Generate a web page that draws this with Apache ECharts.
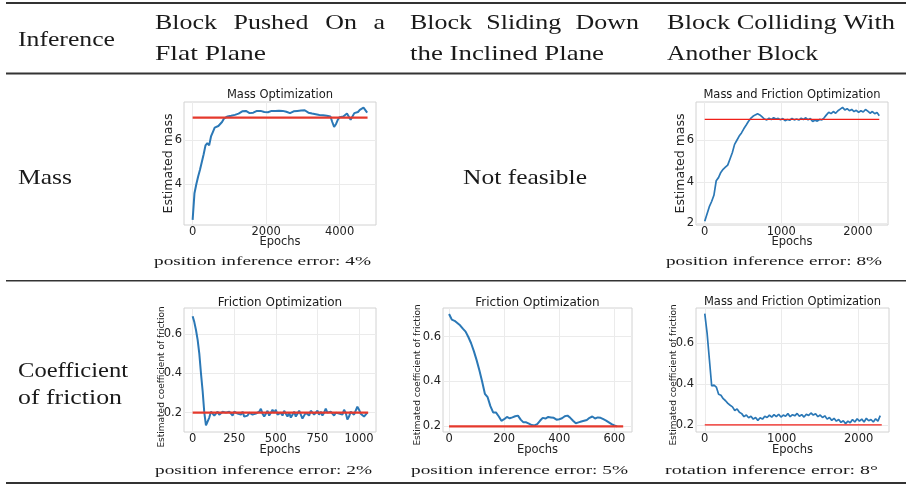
<!DOCTYPE html>
<html><head><meta charset="utf-8">
<script src="https://cdn.jsdelivr.net/npm/echarts@6/dist/echarts.min.js"></script>
<style>html,body{margin:0;padding:0;background:#fff}#c{width:906px;height:486px}</style>
</head><body><div id="c"></div>
<script>
// ---------------- DATA ----------------
const massFlatStep = 50;
const massFlat = [2.40,3.60,4.00,4.35,4.65,5.00,5.35,5.75,5.85,5.75,6.15,6.35,6.55,6.60,6.62,6.65,6.80,6.95,7.02,7.05,
  7.03,7.08,7.06,7.12,7.10,7.18,7.20,7.28,7.22,7.30,7.22,7.20,7.24,7.22,7.26,7.30,7.32,7.30,7.28,7.25,
  7.28,7.24,7.27,7.30,7.26,7.30,7.33,7.31,7.34,7.30,7.28,7.26,7.22,7.20,7.25,7.28,7.26,7.30,7.33,7.32,
  7.30,7.33,7.27,7.22,7.26,7.18,7.20,7.15,7.17,7.12,7.15,7.10,7.12,7.08,7.10,7.05,6.80,6.58,6.70,6.90,
  7.02,7.10,7.05,7.12,7.18,7.15,6.90,6.98,7.20,7.28,7.25,7.35,7.32,7.45,7.38,7.22];
const massCollStep = 30;
const massColl = [2.10,2.45,2.80,3.05,3.35,4.05,4.20,4.45,4.60,4.70,4.80,5.10,5.40,5.80,6.00,6.20,6.35,6.55,6.72,6.90,
  7.05,7.15,7.22,7.28,7.22,7.12,7.02,6.98,7.06,7.00,7.08,7.02,7.05,6.98,7.04,6.94,7.00,6.96,7.05,6.98,
  7.02,6.97,7.06,7.00,7.08,6.98,7.04,6.90,6.96,6.92,7.00,6.98,7.08,7.22,7.35,7.28,7.38,7.30,7.42,7.50,
  7.58,7.46,7.52,7.42,7.48,7.38,7.44,7.34,7.42,7.36,7.48,7.40,7.30,7.38,7.28,7.34,7.18];
const fricFlatStep = 10;
const fricFlat = [0.690,0.660,0.620,0.570,0.500,0.400,0.310,0.200,0.135,0.140,0.175,0.205,0.210,0.185,0.195,0.205,0.190,0.200,0.205,0.195,
  0.200,0.190,0.205,0.200,0.185,0.205,0.210,0.195,0.200,0.190,0.205,0.180,0.170,0.185,0.200,0.210,0.190,0.180,0.195,0.185,
  0.205,0.220,0.195,0.180,0.195,0.210,0.185,0.200,0.215,0.200,0.215,0.190,0.180,0.200,0.185,0.210,0.195,0.180,0.200,0.175,
  0.190,0.205,0.180,0.195,0.210,0.190,0.170,0.185,0.200,0.195,0.185,0.210,0.200,0.190,0.200,0.210,0.190,0.205,0.185,0.200,
  0.220,0.200,0.190,0.205,0.195,0.185,0.200,0.190,0.195,0.200,0.190,0.215,0.200,0.165,0.180,0.205,0.200,0.190,0.210,0.230,
  0.215,0.195,0.205,0.180,0.190,0.200];
const fricInclStep = 10;
const fricIncl = [0.700,0.675,0.670,0.660,0.650,0.635,0.622,0.598,0.570,0.535,0.495,0.450,0.400,0.345,0.330,0.290,0.262,0.262,0.245,0.225,
  0.232,0.242,0.236,0.240,0.245,0.248,0.230,0.218,0.218,0.212,0.206,0.204,0.210,0.225,0.238,0.235,0.242,0.240,0.238,0.230,
  0.232,0.236,0.245,0.248,0.238,0.225,0.214,0.218,0.222,0.225,0.228,0.238,0.244,0.235,0.240,0.238,0.232,0.226,0.218,0.210,
  0.204,0.200];
const fricCollStep = 30;
const fricColl = [0.744,0.650,0.520,0.390,0.395,0.385,0.350,0.345,0.328,0.318,0.305,0.296,0.288,0.270,0.278,0.262,0.255,0.240,0.248,0.235,
  0.242,0.228,0.236,0.222,0.235,0.228,0.242,0.236,0.248,0.238,0.250,0.240,0.252,0.238,0.248,0.242,0.255,0.240,0.250,0.244,
  0.256,0.242,0.250,0.238,0.252,0.246,0.258,0.248,0.254,0.240,0.248,0.236,0.244,0.228,0.236,0.222,0.232,0.218,0.226,0.212,
  0.220,0.206,0.218,0.210,0.226,0.214,0.230,0.218,0.228,0.214,0.232,0.220,0.226,0.214,0.230,0.218,0.245];
const trueMass = 7.0;
const trueFriction = 0.2;
const refLineEnd = [4760, 2280, 1055, 632, 2300];

const xTickValues = [[0,2000,4000],[0,1000,2000],[0,250,500,750,1000],[0,200,400,600],[0,1000,2000]];
const yTickValues = [[4,6],[2,4,6],[0.2,0.4,0.6],[0.2,0.4,0.6],[0.2,0.4,0.6]];
const chartTitles = ['Mass Optimization','Mass and Friction Optimization','Friction Optimization','Friction Optimization','Mass and Friction Optimization'];
const yNames = ['Estimated mass','Estimated mass','Estimated coefficient of friction','Estimated coefficient of friction','Estimated coefficient of friction'];
const xName = 'Epochs';
const captions = ['position inference error: 4%','position inference error: 8%','position inference error: 2%','position inference error: 5%','rotation inference error: 8°'];
const columnHeaders = [['Block Pushed On a','Flat Plane'],['Block Sliding Down','the Inclined Plane'],['Block Colliding With','Another Block']];
const firstColHeader = 'Inference';
const rowLabels = [['Mass'],['Coefficient','of friction']];
const notFeasible = 'Not feasible';

// ---------------- LAYOUT ----------------
const panels = [
  {grid:[184,102,192,123], x:[-235,4990], y:[2.17,7.70], vals:massFlat, step:massFlatStep, ref:trueMass, yNameSize:12.5, yGap:9, yPad:0, xGap:11.5, titleY:95, titleSize:11.5, lw:2, rw:2.2, rc:'#e5392c'},
  {grid:[696,102,192,123], x:[-114,2394], y:[1.92,7.84], vals:massColl, step:massCollStep, ref:trueMass, yNameSize:12.5, yGap:8.5, yPad:0, xGap:11.5, titleY:95, titleSize:11.5, lw:1.7, rw:1.3, rc:'#f0201a'},
  {grid:[184,308,192,124], x:[-52,1102], y:[0.1018,0.7316], vals:fricFlat, step:fricFlatStep, ref:trueFriction, yNameSize:9, yGap:18, yPad:14, xGap:12.5, titleY:302.5, titleSize:12, lw:2, rw:2.2, rc:'#e5392c'},
  {grid:[443,308,189,124], x:[-22,664], y:[0.175,0.727], vals:fricIncl, step:fricInclStep, ref:trueFriction, yNameSize:9, yGap:21, yPad:10, xGap:12.5, titleY:302.5, titleSize:12, lw:2, rw:2.4, rc:'#e5392c'},
  {grid:[696,308,193,124], x:[-114,2394], y:[0.165,0.772], vals:fricColl, step:fricCollStep, ref:trueFriction, yNameSize:9, yGap:17.5, yPad:10, xGap:12.5, titleY:302.5, titleSize:11.5, lw:1.7, rw:1.3, rc:'#f0201a'}
];
const captionPos = [[154,217,262],[666,216,262],[155,217,470.5],[411,217,470.5],[665,213,470.5]];

const SANS = 'DejaVu Sans';
const SERIF = 'Liberation Serif';
const TXT = '#1a1a1a';

const mctx = document.createElement('canvas').getContext('2d');
function measure(text, size, family){ mctx.font = size + 'px ' + family; return mctx.measureText(text).width; }
function textEl(text, x, y, size, family, scaleX, align){
  return {type:'text', x:x, y:y, scaleX:scaleX||1, z:10, silent:true,
    style:{text:text, x:0, y:0, fontSize:size, fontFamily:family, fill:TXT, align:align||'left', verticalAlign:'middle'}};
}
function fitEl(text, left, width, y, size, family){
  return textEl(text, left, y, size, family, width/measure(text,size,family));
}
const plain = v => String(Math.round(v*1000)/1000);

const grids=[], xAxes=[], yAxes=[], series=[], graphics=[];
panels.forEach((p,i)=>{
  grids.push({left:p.grid[0], top:p.grid[1], width:p.grid[2], height:p.grid[3], show:true, borderColor:'#d2d2d2', borderWidth:1, backgroundColor:'transparent', containLabel:false, outerBoundsMode:'none'});
  xAxes.push({gridIndex:i, type:'value', min:p.x[0], max:p.x[1],
    axisLine:{show:false, onZero:false}, axisTick:{show:false, customValues:xTickValues[i]},
    axisLabel:{customValues:xTickValues[i], formatter:plain, fontSize:11.5, fontFamily:SANS, color:'#222', margin:1},
    splitLine:{show:true, lineStyle:{color:'#ebebeb', width:1}},
    name:xName, nameLocation:'middle', nameGap:p.xGap, nameMoveOverlap:false,
    nameTextStyle:{fontSize:11.5, fontFamily:SANS, color:'#222'}});
  yAxes.push({gridIndex:i, type:'value', min:p.y[0], max:p.y[1],
    axisLine:{show:false, onZero:false}, axisTick:{show:false, customValues:yTickValues[i]},
    axisLabel:{customValues:yTickValues[i], formatter:plain, fontSize:11.5, fontFamily:SANS, color:'#222', margin:2},
    splitLine:{show:true, lineStyle:{color:'#ebebeb', width:1}},
    name:yNames[i], nameLocation:'middle', nameRotate:90, nameGap:p.yGap, nameMoveOverlap:false,
    nameTextStyle:{fontSize:p.yNameSize, fontFamily:SANS, color:'#222', padding:[0,p.yPad,0,0]}});
  series.push({type:'line', xAxisIndex:i, yAxisIndex:i, showSymbol:false, silent:true, z:2,
    data:p.vals.map((v,k)=>[k*p.step, v]), lineStyle:{color:'#2b78b6', width:p.lw}});
  series.push({type:'line', xAxisIndex:i, yAxisIndex:i, showSymbol:false, silent:true, z:3,
    data:[[0,p.ref],[refLineEnd[i],p.ref]], lineStyle:{color:p.rc, width:p.rw}});
  graphics.push(textEl(chartTitles[i], p.grid[0]+p.grid[2]/2, p.titleY, p.titleSize, SANS, 1, 'center'));
  const c = captionPos[i];
  graphics.push(fitEl(captions[i], c[0], c[1], c[2], 13, SERIF));
});

// table rules
[[3,2.2],[73.5,2],[280.7,1.4],[483,2.2]].forEach(r=>{
  graphics.push({type:'line', silent:true, z:5, shape:{x1:6,y1:r[0],x2:906,y2:r[0]}, style:{stroke:'#333', lineWidth:r[1]}});
});

// table text
const TS = 21;
const natural = [
  [columnHeaders[0][1],155,111,54],
  [columnHeaders[1][1],410,194,54],
  [columnHeaders[2][0],667,228,23.7],
  [columnHeaders[2][1],667,151,54],
  [firstColHeader,18,97,40],
  [rowLabels[0][0],18,54,178],
  [rowLabels[1][0],18,110,371.5],
  [rowLabels[1][1],18,104,398.5],
  [notFeasible,463,124,178]
];
let sSum=0;
natural.forEach(n=>{ const s=n[2]/measure(n[0],TS,SERIF); sSum+=s; graphics.push(textEl(n[0],n[1],n[3],TS,SERIF,s)); });
const sAvg = sSum/natural.length;
// justified first lines
[[columnHeaders[0][0],155,385],[columnHeaders[1][0],410,639]].forEach(j=>{
  const words=j[0].split(' ');
  const ws=words.map(w=>measure(w,TS,SERIF)*sAvg);
  const gap=((j[2]-j[1])-ws.reduce((a,b)=>a+b,0))/(words.length-1);
  let x=j[1];
  words.forEach((w,k)=>{ graphics.push(textEl(w,x,23.7,TS,SERIF,sAvg)); x+=ws[k]+gap; });
});

const chart = echarts.init(document.getElementById('c'), null, {renderer:'canvas'});
chart.setOption({
  animation:false,
  backgroundColor:'#fff',
  grid:grids, xAxis:xAxes, yAxis:yAxes, series:series, graphic:graphics
});
</script></body></html>
